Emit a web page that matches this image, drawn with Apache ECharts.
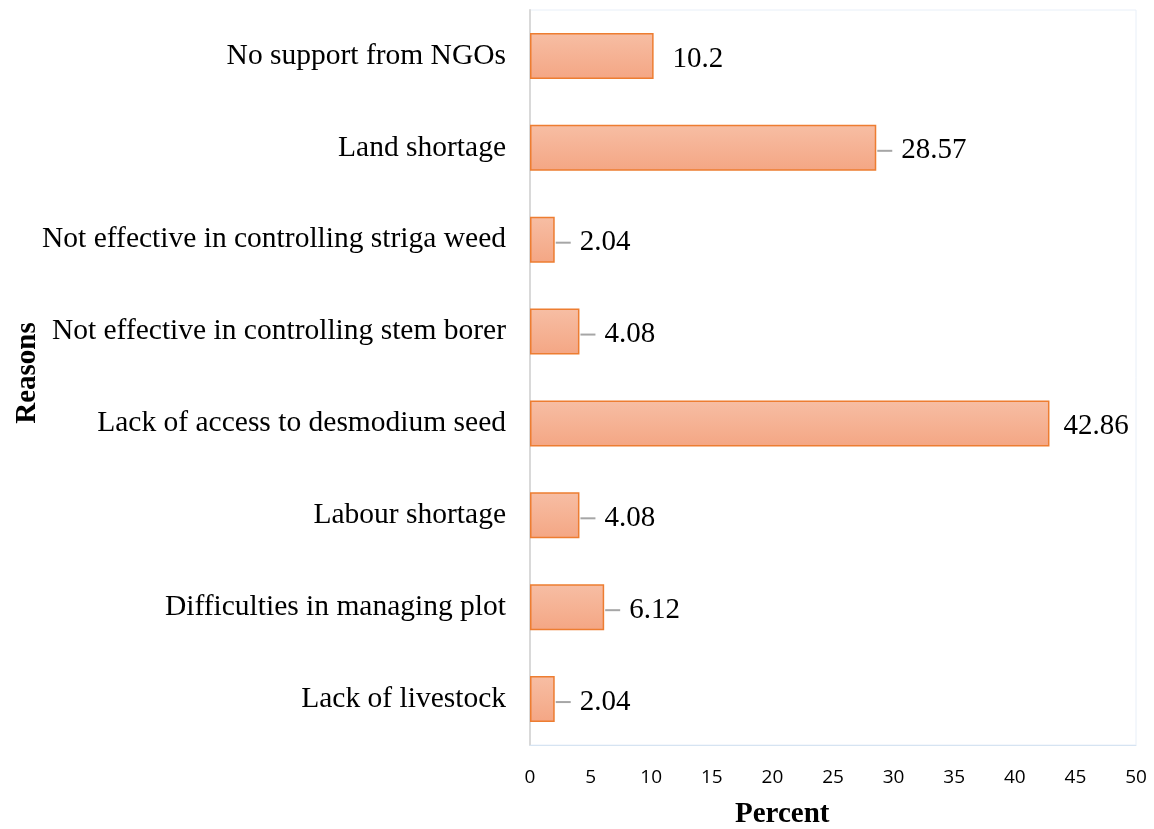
<!DOCTYPE html>
<html><head><meta charset="utf-8">
<script src="https://cdn.jsdelivr.net/npm/echarts@6/dist/echarts.min.js"></script>
<style>html,body{margin:0;padding:0;background:#fff}#c{width:1154px;height:829px}</style>
</head><body><div id="c"></div>
<script>
const categories = ["Lack of livestock","Difficulties in managing plot","Labour shortage","Lack of access to desmodium seed","Not effective in controlling stem borer","Not effective in controlling striga weed","Land shortage","No support from NGOs"];
const values = [2.04, 6.12, 4.08, 42.86, 4.08, 2.04, 28.57, 10.2];
const valueLabels = ["2.04","6.12","4.08","42.86","4.08","2.04","28.57","10.2"];
const leader = [true, true, true, false, true, true, true, false];
const xTicks = [0,5,10,15,20,25,30,35,40,45,50];

const chart = echarts.init(document.getElementById('c'));
chart.setOption({
  animation: false,
  grid: {left: 530, right: 18, top: 10, bottom: 84, show: true, borderColor: '#e8eff8', borderWidth: 1},
  xAxis: {
    type: 'value', min: 0, max: 50, interval: 5,
    axisLine: {show: true, lineStyle: {color: '#d6e4f2'}},
    axisTick: {show: false},
    splitLine: {show: false},
    axisLabel: {margin: 23, fontFamily: 'Open Sans', fontSize: 19, color: '#000',
      formatter: v => xTicks.includes(v) ? String(v) : ''}
  },
  yAxis: {
    type: 'category', data: categories,
    axisLine: {show: true, lineStyle: {color: '#d9d9d9', width: 2}},
    axisTick: {show: false},
    axisLabel: {margin: 24, fontFamily: 'Liberation Serif', fontSize: 29.5, color: '#000', padding: [6, 0, 0, 0]}
  },
  series: [{
    type: 'bar', data: values, barCategoryGap: '50%',
    itemStyle: {
      borderColor: '#ed7d31', borderWidth: 1.5,
      color: new echarts.graphic.LinearGradient(0,0,0,1,[{offset:0,color:'#f7bea4'},{offset:1,color:'#f4a684'}])
    },
    label: {
      show: true, position: 'right', distance: 1, offset: [0, 3],
      formatter: p => leader[p.dataIndex] ? '{l|}{s|}{v|' + valueLabels[p.dataIndex] + '}' : (p.dataIndex === 3 ? '{h|}' : '{g|}') + '{v|' + valueLabels[p.dataIndex] + '}',
      rich: {
        l: {width: 15, height: 2, backgroundColor: '#a6a6a6'},
        s: {width: 9},
        g: {width: 18},
        h: {width: 13},
        v: {fontFamily: 'Liberation Serif', fontSize: 29, color: '#000'}
      }
    }
  }],
  graphic: [
    {type: 'text', left: 735, top: 800, style: {text: 'Percent', fontFamily: 'Liberation Serif', fontSize: 29, fontWeight: 'bold', fill: '#000'}},
    {type: 'text', x: 28, y: 373, rotation: Math.PI/2, style: {text: 'Reasons', fontFamily: 'Liberation Serif', fontSize: 29, fontWeight: 'bold', fill: '#000', align: 'center', verticalAlign: 'middle'}}
  ]
});
</script></body></html>
